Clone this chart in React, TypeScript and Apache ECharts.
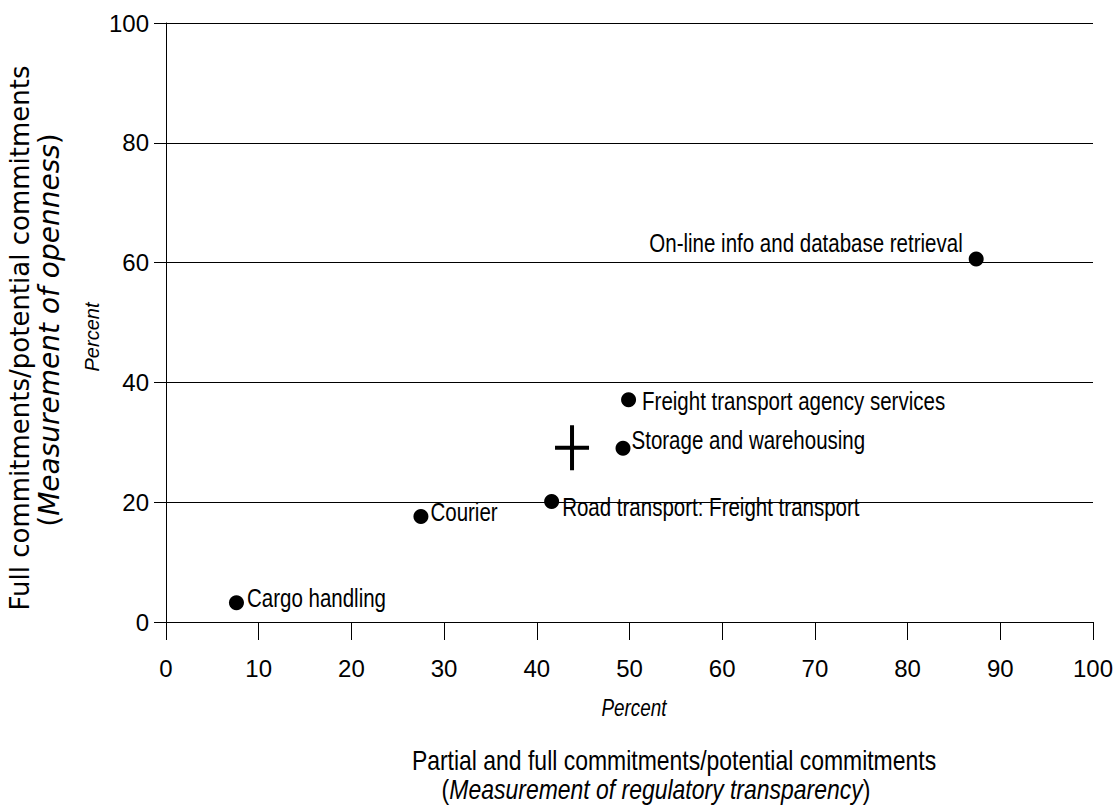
import React, { useEffect, useRef } from "react";
import * as echarts from "echarts";

// ---------- data ----------
const categories = [
  "Cargo handling",
  "Courier",
  "Road transport: Freight transport",
  "Storage and warehousing",
  "Freight transport agency services",
  "On-line info and database retrieval",
];
const xValues = [7.6, 27.5, 41.6, 49.3, 49.9, 87.4];
const yValues = [3.2, 17.6, 20.1, 29.0, 37.1, 60.6];
const averagePoint = [43.8, 29.1];

const xRange = [0, 100];
const xStep = 10;
const yRange = [0, 100];
const yStep = 20;

const yTitleLine1 = "Full commitments/potential commitments";
const yTitleLine2 = "Measurement of openness";
const unitText = "Percent";
const xTitleLine1 = "Partial and full commitments/potential commitments";
const xTitleLine2 = "Measurement of regulatory transparency";

// ---------- label placement (style) ----------
const labelPlacement: Record<string, { side: string; gap: number; dy: number }> = {
  "Cargo handling": { side: "right", gap: 3, dy: -5 },
  Courier: { side: "right", gap: 2, dy: -4 },
  "Road transport: Freight transport": { side: "right", gap: 3, dy: 6 },
  "Storage and warehousing": { side: "right", gap: 1, dy: -8 },
  "Freight transport agency services": { side: "right", gap: 6, dy: 1 },
  "On-line info and database retrieval": { side: "left", gap: 6, dy: -16 },
};

const SANS = '"Liberation Sans", Arial, Helvetica, sans-serif';
const WIDE = '"DejaVu Sans", "Liberation Sans", sans-serif';
const NARROW_SCALE = 0.82;

export default function App() {
  const ref = useRef<HTMLDivElement>(null);

  useEffect(() => {
    document.body.style.margin = "0";
    const chart = echarts.init(ref.current!, null, { renderer: "svg" });

    const option: any = {
      animation: false,
      backgroundColor: "#fff",
      grid: {
        left: 166,
        right: 24,
        top: 23,
        bottom: 186,
        containLabel: false,
        outerBoundsMode: "none",
      },
      xAxis: {
        type: "value",
        min: xRange[0],
        max: xRange[1],
        interval: xStep,
        axisLine: { show: true, lineStyle: { color: "#000", width: 1 } },
        axisTick: { show: true, length: 18, lineStyle: { color: "#000", width: 1 } },
        axisLabel: {
          color: "#000",
          fontFamily: SANS,
          fontSize: 24,
          margin: 34,
        },
        splitLine: { show: false },
      },
      yAxis: {
        type: "value",
        min: yRange[0],
        max: yRange[1],
        interval: yStep,
        axisLine: { show: true, lineStyle: { color: "#000", width: 1 } },
        axisTick: { show: true, length: 12, lineStyle: { color: "#000", width: 1 } },
        axisLabel: {
          color: "#000",
          fontFamily: SANS,
          fontSize: 24,
          margin: 17,
        },
        splitLine: { show: true, lineStyle: { color: "#000", width: 1 } },
      },
      series: [
        {
          type: "custom",
          coordinateSystem: "cartesian2d",
          encode: { x: 0, y: 1 },
          data: categories.map((_, i) => [xValues[i], yValues[i], i]),
          renderItem: (params: any, api: any) => {
            const idx = api.value(2);
            const name = categories[idx];
            const pt = api.coord([api.value(0), api.value(1)]);
            const p = labelPlacement[name];
            const r = 7.5;
            const tx = p.side === "right" ? pt[0] + r + p.gap : pt[0] - r - p.gap;
            return {
              type: "group",
              children: [
                {
                  type: "circle",
                  shape: { cx: pt[0], cy: pt[1], r },
                  style: { fill: "#000" },
                },
                {
                  type: "text",
                  x: tx,
                  y: pt[1] + p.dy,
                  scaleX: NARROW_SCALE,
                  style: {
                    text: name,
                    fontFamily: SANS,
                    fontSize: 25,
                    fill: "#000",
                    align: p.side === "right" ? "left" : "right",
                    verticalAlign: "middle",
                  },
                },
              ],
            };
          },
          z: 3,
        },
        {
          type: "scatter",
          symbol: "path://M15,0 h4 v20.5 h15 v4 h-15 v20.5 h-4 v-20.5 h-15 v-4 h15 z",
          symbolSize: [34, 45],
          itemStyle: { color: "#000", opacity: 1 },
          emphasis: { disabled: true },
          data: [averagePoint],
          z: 3,
        },
      ],
      graphic: [
        {
          type: "text",
          x: 20,
          y: 338,
          rotation: Math.PI / 2,
          style: {
            text: yTitleLine1,
            fontFamily: WIDE,
            fontSize: 26,
            fill: "#000",
            align: "center",
            verticalAlign: "middle",
          },
        },
        {
          type: "text",
          x: 49,
          y: 330,
          rotation: Math.PI / 2,
          style: {
            text: "{n|(}{i|" + yTitleLine2 + "}{n|)}",
            fill: "#000",
            align: "center",
            verticalAlign: "middle",
            rich: {
              n: { fontFamily: WIDE, fontSize: 28, fill: "#000" },
              i: { fontFamily: WIDE, fontSize: 28, fontStyle: "italic", fill: "#000" },
            },
          },
        },
        {
          type: "text",
          x: 92,
          y: 337,
          rotation: Math.PI / 2,
          style: {
            text: unitText,
            fontFamily: SANS,
            fontStyle: "italic",
            fontSize: 20,
            fill: "#000",
            align: "center",
            verticalAlign: "middle",
          },
        },
        {
          type: "text",
          x: 634,
          y: 708,
          scaleX: NARROW_SCALE,
          style: {
            text: unitText,
            fontFamily: SANS,
            fontStyle: "italic",
            fontSize: 23,
            fill: "#000",
            align: "center",
            verticalAlign: "middle",
          },
        },
        {
          type: "text",
          x: 674,
          y: 760,
          scaleX: NARROW_SCALE,
          style: {
            text: xTitleLine1,
            fontFamily: SANS,
            fontSize: 28,
            fill: "#000",
            align: "center",
            verticalAlign: "middle",
          },
        },
        {
          type: "text",
          x: 656,
          y: 789,
          scaleX: NARROW_SCALE,
          style: {
            text: "{n|(}{i|" + xTitleLine2 + "}{n|)}",
            fill: "#000",
            align: "center",
            verticalAlign: "middle",
            rich: {
              n: { fontFamily: SANS, fontSize: 28, fill: "#000" },
              i: { fontFamily: SANS, fontSize: 28, fontStyle: "italic", fill: "#000" },
            },
          },
        },
      ],
    };

    chart.setOption(option);
    return () => chart.dispose();
  }, []);

  return (
    <div
      ref={ref}
      style={{ position: "absolute", left: 0, top: 0, width: 1117, height: 808, background: "#fff" }}
    />
  );
}
